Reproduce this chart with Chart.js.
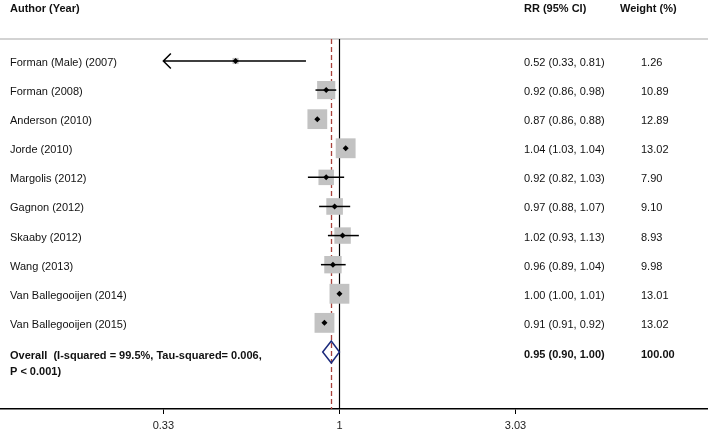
<!DOCTYPE html>
<html>
<head>
<meta charset="utf-8">
<script src="https://cdn.jsdelivr.net/npm/chart.js@4/dist/chart.umd.min.js"></script>
<style>
  html, body { margin: 0; padding: 0; background: #fff; }
  #wrap { width: 708px; height: 435px; position: relative; }
</style>
</head>
<body>
<div id="wrap"><canvas id="forest"></canvas></div>
<script>
// study rows
const studies = ['Forman (Male) (2007)', 'Forman (2008)', 'Anderson (2010)', 'Jorde (2010)', 'Margolis (2012)',
  'Gagnon (2012)', 'Skaaby (2012)', 'Wang (2013)', 'Van Ballegooijen (2014)', 'Van Ballegooijen (2015)'];
const rr = [0.52, 0.92, 0.87, 1.04, 0.92, 0.97, 1.02, 0.96, 1.00, 0.91];
const lower = [0.33, 0.86, 0.86, 1.03, 0.82, 0.88, 0.93, 0.89, 1.00, 0.91];
const upper = [0.81, 0.98, 0.88, 1.04, 1.03, 1.07, 1.13, 1.04, 1.01, 0.92];
const weights = [1.26, 10.89, 12.89, 13.02, 7.90, 9.10, 8.93, 9.98, 13.01, 13.02];

// pooled estimate
const overallRR = 0.95;
const overallCI = [0.90, 1.00];
const overallWeight = 100.00;
const overallLabel = ['Overall  (I-squared = 99.5%, Tau-squared= 0.006,', 'P < 0.001)'];

const xTicks = [0.33, 1, 3.03];
const headers = ['Author (Year)', 'RR (95% CI)', 'Weight (%)'];

const FONT = "'Liberation Sans', Arial, sans-serif";
const overallRow = studies.length;
const fmt = v => v.toFixed(2);

const forestPlugin = {
  id: 'forest',
  beforeDatasetsDraw(chart) {
    const { ctx, chartArea: a, scales: { x } } = chart;
    ctx.save();
    // header rule
    ctx.strokeStyle = '#c4c4c4';
    ctx.lineWidth = 1.5;
    ctx.beginPath();
    ctx.moveTo(0, a.top); ctx.lineTo(708, a.top);
    ctx.stroke();
    // null line
    const x1 = Math.round(x.getPixelForValue(1)) + 0.5;
    ctx.strokeStyle = '#000';
    ctx.lineWidth = 1.2;
    ctx.beginPath();
    ctx.moveTo(x1, a.top); ctx.lineTo(x1, a.bottom);
    ctx.stroke();
    // pooled estimate line
    const xo = Math.round(x.getPixelForValue(overallRR)) + 0.5;
    ctx.strokeStyle = '#a8403a';
    ctx.lineWidth = 1.3;
    ctx.setLineDash([5, 3]);
    ctx.beginPath();
    ctx.moveTo(xo, a.top); ctx.lineTo(xo, a.bottom);
    ctx.stroke();
    ctx.restore();
  },
  afterDatasetDraw(chart, args) {
    if (args.index !== 0) return;
    const { ctx, scales: { x, y } } = chart;
    ctx.save();
    ctx.strokeStyle = '#000';
    ctx.lineWidth = 1.5;
    studies.forEach((s, i) => {
      const py = y.getPixelForValue(i);
      const lo = x.getPixelForValue(lower[i]);
      const hi = x.getPixelForValue(upper[i]);
      ctx.beginPath();
      ctx.moveTo(lo, py); ctx.lineTo(hi, py);
      if (lower[i] <= xTicks[0]) {
        // CI runs past the plotted range
        ctx.moveTo(lo + 7.5, py - 7.5); ctx.lineTo(lo, py); ctx.lineTo(lo + 7.5, py + 7.5);
      }
      ctx.stroke();
    });
    ctx.restore();
  },
  afterDatasetsDraw(chart) {
    const { ctx, scales: { x, y } } = chart;
    const py = y.getPixelForValue(overallRow);
    ctx.save();
    ctx.strokeStyle = '#1b2a7c';
    ctx.lineWidth = 1.5;
    ctx.beginPath();
    ctx.moveTo(x.getPixelForValue(overallCI[0]), py);
    ctx.lineTo(x.getPixelForValue(overallRR), py - 11);
    ctx.lineTo(x.getPixelForValue(overallCI[1]), py);
    ctx.lineTo(x.getPixelForValue(overallRR), py + 11);
    ctx.closePath();
    ctx.stroke();
    ctx.restore();
  },
  afterDraw(chart) {
    const { ctx, scales: { y } } = chart;
    ctx.save();
    ctx.fillStyle = '#111';
    ctx.textBaseline = 'middle';
    ctx.textAlign = 'left';
    // column headers
    ctx.font = 'bold 11px ' + FONT;
    ctx.fillText(headers[0], 10, 9);
    ctx.fillText(headers[1], 524, 9);
    ctx.fillText(headers[2], 620, 9);
    // study rows
    ctx.font = '11px ' + FONT;
    studies.forEach((s, i) => {
      const py = y.getPixelForValue(i) + 2;
      ctx.fillText(s, 10, py);
      ctx.fillText(`${fmt(rr[i])} (${fmt(lower[i])}, ${fmt(upper[i])})`, 524, py);
      ctx.fillText(fmt(weights[i]), 641, py);
    });
    // overall row
    const po = y.getPixelForValue(overallRow) + 4;
    ctx.font = 'bold 11px ' + FONT;
    ctx.fillText(overallLabel[0], 10, po);
    ctx.fillText(overallLabel[1], 10, po + 16);
    ctx.fillText(`${fmt(overallRR)} (${fmt(overallCI[0])}, ${fmt(overallCI[1])})`, 524, po - 1);
    ctx.fillText(fmt(overallWeight), 641, po - 1);
    ctx.restore();
  }
};

const points = rr.map((v, i) => ({ x: v, y: i }));

new Chart(document.getElementById('forest'), {
  type: 'scatter',
  data: {
    datasets: [
      {
        // study weight boxes (drawn first)
        data: points,
        order: 1,
        pointStyle: 'rect',
        pointRadius: weights.map(w => 5.5 * Math.sqrt(w) / Math.SQRT2),
        backgroundColor: '#c2c2c2',
        borderWidth: 0
      },
      {
        // point estimates on top
        data: points,
        order: 0,
        pointStyle: 'rectRot',
        pointRadius: 3,
        backgroundColor: '#000',
        borderWidth: 0
      }
    ]
  },
  options: {
    responsive: true,
    maintainAspectRatio: false,
    animation: false,
    events: [],
    layout: { autoPadding: false, padding: { top: 39, left: 0, right: 0, bottom: 0 } },
    plugins: { legend: { display: false }, tooltip: { enabled: false } },
    scales: {
      x: {
        type: 'logarithmic',
        min: 0.118,
        max: 10.18,
        afterBuildTicks: s => { s.ticks = xTicks.map(v => ({ value: v })); },
        afterFit: s => { s.height = 26; },
        grid: { drawOnChartArea: false, drawTicks: true, tickLength: 5, color: '#000', lineWidth: 1 },
        border: { display: true, color: '#000', width: 1.5 },
        ticks: {
          autoSkip: false,
          maxRotation: 0,
          padding: 5,
          color: '#222',
          font: { family: FONT, size: 11 },
          callback: v => String(v)
        }
      },
      y: {
        type: 'linear',
        min: -0.755,
        max: 11.96,
        reverse: true,
        display: false
      }
    }
  },
  plugins: [forestPlugin]
});
</script>
</body>
</html>
